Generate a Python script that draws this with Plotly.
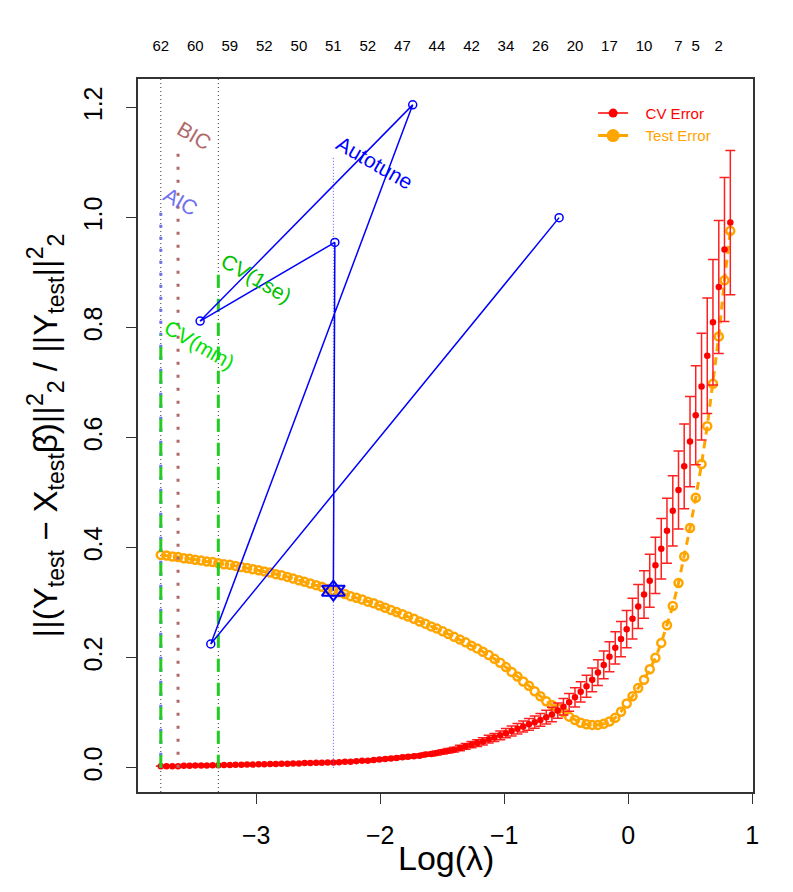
import plotly.graph_objects as go

# lambda grid (log scale) and the cross-validation / test curves
log_lambda = [
    -3.770, -3.724, -3.677, -3.631, -3.584, -3.538, -3.492, -3.445, -3.399, -3.352,
    -3.306, -3.260, -3.213, -3.167, -3.120, -3.074, -3.028, -2.981, -2.935, -2.888,
    -2.842, -2.796, -2.749, -2.703, -2.656, -2.610, -2.564, -2.517, -2.471, -2.424,
    -2.378, -2.332, -2.285, -2.239, -2.192, -2.146, -2.100, -2.053, -2.007, -1.960,
    -1.914, -1.868, -1.821, -1.775, -1.728, -1.682, -1.636, -1.589, -1.543, -1.496,
    -1.450, -1.404, -1.357, -1.311, -1.264, -1.218, -1.172, -1.125, -1.079, -1.032,
    -0.986, -0.940, -0.893, -0.847, -0.800, -0.754, -0.708, -0.661, -0.615, -0.568,
    -0.522, -0.476, -0.429, -0.383, -0.336, -0.290, -0.244, -0.197, -0.151, -0.104,
    -0.058, -0.012, 0.035, 0.081, 0.128, 0.174, 0.220, 0.267, 0.313, 0.360,
    0.406, 0.452, 0.499, 0.545, 0.592, 0.638, 0.684, 0.731, 0.777, 0.824,
]

cv_error = [
    0.003, 0.003, 0.003, 0.003, 0.0035, 0.0035, 0.004, 0.004, 0.004, 0.0045,
    0.0045, 0.005, 0.005, 0.0055, 0.0055, 0.006, 0.006, 0.0065, 0.0065, 0.007,
    0.007, 0.0075, 0.0075, 0.008, 0.008, 0.0085, 0.0085, 0.009, 0.009, 0.0095,
    0.0096, 0.010, 0.011, 0.011, 0.012, 0.013, 0.013, 0.014, 0.015, 0.016,
    0.017, 0.018, 0.019, 0.020, 0.021, 0.022, 0.024, 0.025, 0.027, 0.029,
    0.031, 0.033, 0.036, 0.039, 0.042, 0.045, 0.048, 0.052, 0.055, 0.059,
    0.063, 0.067, 0.071, 0.075, 0.079, 0.083, 0.087, 0.092, 0.097, 0.104,
    0.111, 0.119, 0.128, 0.138, 0.148, 0.160, 0.173, 0.187, 0.202, 0.218,
    0.234, 0.252, 0.271, 0.293, 0.315, 0.340, 0.368, 0.398, 0.431, 0.467,
    0.505, 0.548, 0.593, 0.641, 0.693, 0.749, 0.810, 0.874, 0.942, 0.991,
]

cv_se = [
    0.0004, 0.0004, 0.0004, 0.0004, 0.0005, 0.0005, 0.0005, 0.0005, 0.0005, 0.0006,
    0.0006, 0.0007, 0.0007, 0.0007, 0.0007, 0.0008, 0.0008, 0.0009, 0.0009, 0.0009,
    0.0009, 0.001, 0.001, 0.0011, 0.0011, 0.0011, 0.0011, 0.0012, 0.0012, 0.0013,
    0.0013, 0.0014, 0.0015, 0.0015, 0.0016, 0.0018, 0.0018, 0.0019, 0.002, 0.0022,
    0.0023, 0.0024, 0.0026, 0.0027, 0.0028, 0.003, 0.0032, 0.0034, 0.0036, 0.0039,
    0.0042, 0.0045, 0.0049, 0.0053, 0.0057, 0.0061, 0.0065, 0.007, 0.0074, 0.008,
    0.0085, 0.009, 0.0096, 0.0101, 0.0107, 0.0112, 0.0117, 0.0124, 0.0131, 0.014,
    0.015, 0.016, 0.0173, 0.0186, 0.02, 0.0216, 0.0234, 0.0252, 0.0273, 0.0294,
    0.032, 0.034, 0.037, 0.040, 0.043, 0.048, 0.051, 0.055, 0.059, 0.064,
    0.071, 0.077, 0.082, 0.090, 0.097, 0.105, 0.114, 0.121, 0.131, 0.131,
]

test_error = [
    0.387, 0.386, 0.384, 0.383, 0.381, 0.380, 0.378, 0.377, 0.375, 0.374,
    0.372, 0.370, 0.369, 0.367, 0.365, 0.363, 0.361, 0.359, 0.357, 0.355,
    0.352, 0.350, 0.347, 0.344, 0.341, 0.338, 0.335, 0.332, 0.329, 0.325,
    0.322, 0.319, 0.316, 0.312, 0.309, 0.306, 0.302, 0.299, 0.295, 0.291,
    0.287, 0.283, 0.279, 0.275, 0.271, 0.266, 0.262, 0.257, 0.253, 0.248,
    0.243, 0.238, 0.233, 0.228, 0.222, 0.217, 0.211, 0.205, 0.198, 0.191,
    0.183, 0.174, 0.166, 0.157, 0.149, 0.139, 0.130, 0.121, 0.114, 0.108,
    0.101, 0.093, 0.087, 0.082, 0.079, 0.078, 0.078, 0.080, 0.084, 0.091,
    0.102, 0.117, 0.130, 0.145, 0.160, 0.179, 0.200, 0.227, 0.259, 0.294,
    0.336, 0.384, 0.436, 0.491, 0.552, 0.621, 0.698, 0.784, 0.886, 0.976,
]

# number of nonzero coefficients shown on the top axis
nz_index = [0, 6, 12, 18, 24, 30, 36, 42, 48, 54, 60, 66, 72, 78, 84, 90, 93, 97]
nz_count = [62, 60, 59, 52, 50, 51, 52, 47, 44, 42, 34, 26, 20, 17, 10, 7, 5, 2]

# autotune search path
tune_x = [-0.557, -3.367, -1.738, -3.453, -2.366]
tune_y = [1.000, 0.225, 1.205, 0.812, 0.955]
tune_final = 30

# model selection markers: name, lambda index, height of the line
sel_names = ["AIC", "BIC", "CV(min)", "CV(1se)", "Autotune"]
sel_index = [0, 3, 0, 10, 30]
sel_top = [1.020, 1.130, 0.787, 0.908, 1.111]

FONT = "Liberation Sans, Arial, Helvetica, sans-serif"
sel_color = ["#7070F0", "#B06A6A", "#22CC22", "#22CC22", "#5050FF"]
sel_text_color = ["#7070F0", "#B06A6A", "#00E000", "#00C000", "#0000FF"]
sel_dash = ["3px,9px", "3px,10px", "13px,11px", "13px,11px", "1px,2px"]
sel_width = [3, 3, 3, 3, 1]
label_pos = [(-3.610, 1.029), (-3.500, 1.150), (-3.460, 0.769), (-2.995, 0.890), (-2.045, 1.101)]

fig = go.Figure()

# test error: orange open circles joined by a dashed line
fig.add_trace(go.Scatter(
    x=log_lambda, y=test_error, mode="lines+markers", showlegend=False,
    line=dict(color="#FFA500", width=3, dash="8px,6px"),
    marker=dict(symbol="circle-open", size=8, color="#FFA500", line=dict(width=2.5)),
))

# CV error with standard error bars
fig.add_trace(go.Scatter(
    x=log_lambda, y=cv_error, mode="markers", showlegend=False,
    marker=dict(size=6.5, color="#FF0000"),
    error_y=dict(type="data", array=cv_se, color="#FF2020", thickness=1.5, width=5),
))

# selection lines and their labels
for name, idx, top, col, dash, w in zip(sel_names, sel_index, sel_top, sel_color, sel_dash, sel_width):
    fig.add_trace(go.Scatter(
        x=[log_lambda[idx], log_lambda[idx]], y=[0, top], mode="lines", showlegend=False,
        line=dict(color=col, width=w, dash=dash),
    ))

for name, (lx, ly), tc in zip(sel_names, label_pos, sel_text_color):
    fig.add_annotation(x=lx, y=ly, text=name, showarrow=False, textangle=30,
                       font=dict(family=FONT, size=21, color=tc))

# autotune path
fig.add_trace(go.Scatter(
    x=tune_x + [log_lambda[tune_final]], y=tune_y + [test_error[tune_final]],
    mode="lines", showlegend=False, line=dict(color="#0000FF", width=1.5),
))
fig.add_trace(go.Scatter(
    x=tune_x, y=tune_y, mode="markers", showlegend=False,
    marker=dict(symbol="circle-open", size=8, color="#0000FF", line=dict(width=1.5)),
))
for sym in ["triangle-up-open", "triangle-down-open"]:
    fig.add_trace(go.Scatter(
        x=[log_lambda[tune_final]], y=[test_error[tune_final]], mode="markers", showlegend=False,
        marker=dict(symbol=sym, size=20, color="#0000FF", line=dict(width=2)),
    ))

# legend entries
fig.add_trace(go.Scatter(
    x=[None], y=[None], mode="lines+markers",
    name="&nbsp;&nbsp;&nbsp;<span style='color:#FF0000'>CV Error</span>",
    line=dict(color="#FF0000", width=1.5), marker=dict(size=9, color="#FF0000"),
))
fig.add_trace(go.Scatter(
    x=[None], y=[None], mode="lines+markers",
    name="&nbsp;&nbsp;&nbsp;<span style='color:#FFA500'>Test Error</span>",
    line=dict(color="#FFA500", width=3), marker=dict(size=13, color="#FFA500"),
))

# anchor for the top axis
fig.add_trace(go.Scatter(x=[None], y=[None], xaxis="x2", showlegend=False, hoverinfo="skip"))

# dotted reference lines at lambda.min and lambda.1se
for idx in [0, 10]:
    fig.add_shape(type="line", xref="x", yref="paper", x0=log_lambda[idx], x1=log_lambda[idx],
                  y0=0, y1=1, line=dict(color="#333333", width=1, dash="1px,3px"), layer="below")

# x axis title placed as text below the tick labels
fig.add_annotation(x=0.5, y=-0.092, xref="paper", yref="paper", text="Log(\u03bb)",
                   showarrow=False, yanchor="middle", font=dict(family=FONT, size=34))

xr = [-3.954, 1.007]
fig.update_layout(
    width=793, height=892,
    margin=dict(l=138, r=40, t=79, b=100),
    paper_bgcolor="white", plot_bgcolor="white",
    font=dict(family=FONT, color="black"),
    xaxis=dict(
        range=xr, tickvals=[-3, -2, -1, 0, 1], ticktext=["\u22123", "\u22122", "\u22121", "0", "1"],
        ticks="outside", ticklen=10, tickwidth=1, tickcolor="#333", ticklabelstandoff=10,
        tickfont=dict(size=25), showline=True, linecolor="#333", linewidth=1.5, mirror=True,
        showgrid=False, zeroline=False,
    ),
    xaxis2=dict(
        range=xr, overlaying="x", side="top", matches="x",
        tickvals=[log_lambda[i] for i in nz_index], ticktext=[str(c) for c in nz_count],
        ticks="", ticklabelstandoff=24, tickfont=dict(size=15),
        showline=False, showgrid=False, zeroline=False,
    ),
    yaxis=dict(
        range=[-0.044, 1.252], tickvals=[0, 0.2, 0.4, 0.6, 0.8, 1.0, 1.2],
        ticktext=["0.0", "0.2", "0.4", "0.6", "0.8", "1.0", "1.2"], tickangle=-90,
        ticks="outside", ticklen=10, tickwidth=1, tickcolor="#333", ticklabelstandoff=14,
        tickfont=dict(size=25), showline=True, linecolor="#333", linewidth=1.5, mirror=True,
        showgrid=False, zeroline=False,
        title=dict(
            text="||(Y<sub>test</sub> \u2212 X<sub>test</sub>\u03b2\u0302)||<sup>2</sup><sub>2</sub>"
                 " / ||Y<sub>test</sub>||<sup>2</sup><sub>2</sub>",
            font=dict(size=33), standoff=12,
        ),
    ),
    legend=dict(x=0.74, y=0.975, xanchor="left", yanchor="top", bgcolor="rgba(0,0,0,0)",
                font=dict(size=15), itemwidth=30, tracegroupgap=0),
)

fig.write_html("out.html", config={"displayModeBar": False},
               post_script="document.body.style.margin='0';")
